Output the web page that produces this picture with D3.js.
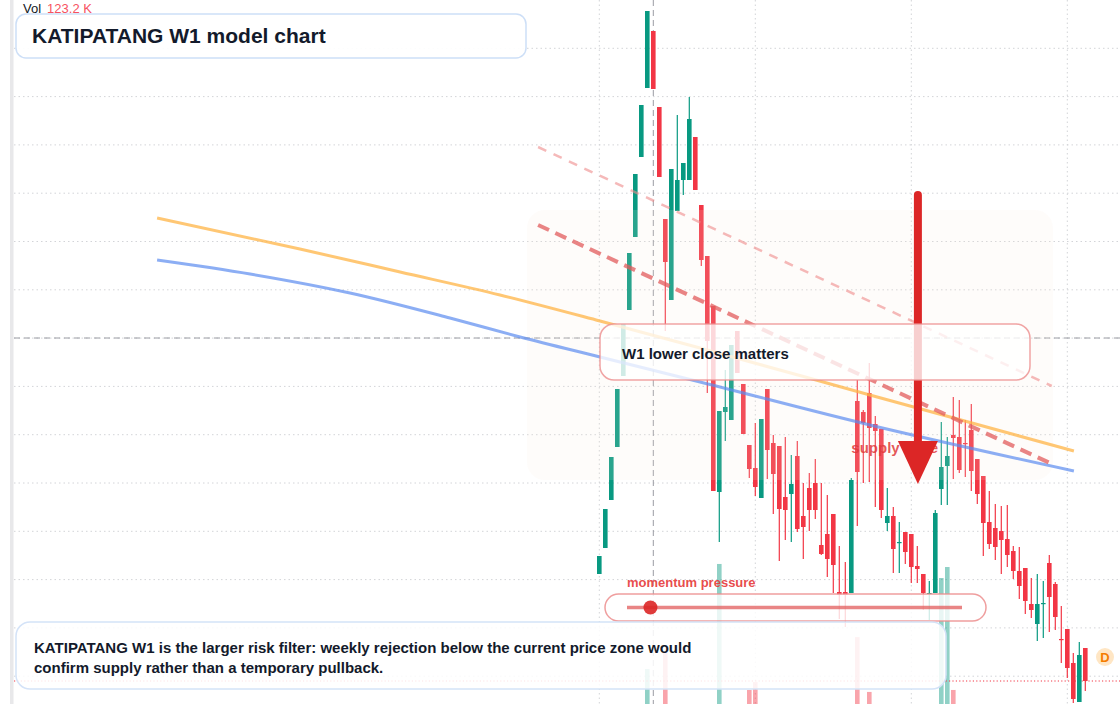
<!DOCTYPE html>
<html>
<head>
<meta charset="utf-8">
<script src="https://cdn.jsdelivr.net/npm/d3@7/dist/d3.min.js"></script>
<style>
    html, body { margin: 0; padding: 0; background: #fff; }
    #chart { width: 1120px; height: 704px; overflow: hidden; }
    text { font-family: "Liberation Sans", Arial, sans-serif; }
</style>
</head>
<body>
<div id="chart"></div>
<script>
// Weekly candles (oldest -> newest)
const opens  = [2.26,2.52,3.00,3.53,4.24,4.90,5.63,6.43,7.12,7.69,6.93,5.81,5.00,5.89,6.20,6.20,6.63,5.95,5.44,4.94,
                3.08,3.88,3.80,4.69,4.16,3.55,3.32,3.02,4.11,3.57,3.54,3.03,3.06,3.44,2.84,3.12,3.17,2.55,2.66,2.86,
                2.08,2.08,2.07,3.99,3.88,4.07,3.76,3.71,2.77,2.84,2.57,2.68,2.66,2.34,2.26,2.06,2.07,3.11,3.34,3.65,
                3.63,3.57,3.70,3.41,3.24,2.78,2.72,2.69,2.61,2.49,2.29,2.32,1.96,1.76,1.96,2.37,2.16,1.61,1.71,1.37,
                0.98,1.52];
const highs  = [2.44,2.91,3.43,4.11,4.76,5.47,6.26,6.95,7.89,7.69,6.93,5.81,6.31,6.85,6.37,7.03,6.63,5.95,5.44,4.94,
                3.89,4.30,4.55,4.69,4.16,3.55,3.77,3.81,4.11,3.65,3.54,3.63,3.45,3.59,3.17,3.27,3.41,3.17,3.05,2.86,
                2.54,2.38,3.22,4.20,3.90,4.37,3.84,3.71,3.12,2.93,2.78,2.68,2.66,2.54,2.26,2.19,2.90,3.78,3.63,4.03,
                4.00,3.80,3.96,3.41,3.24,3.09,2.96,2.94,2.95,2.54,2.53,2.32,2.22,2.26,2.19,2.45,2.18,1.94,1.71,1.47,
                1.58,1.52];
const lows   = [2.26,2.52,3.00,3.53,4.24,4.90,5.63,6.43,7.12,7.11,6.23,4.69,5.00,5.89,6.05,6.20,6.10,5.34,4.07,3.09,
                2.58,3.59,3.80,4.27,3.66,3.22,3.04,3.02,3.21,2.86,2.39,2.60,2.58,2.68,2.41,2.69,2.81,2.45,2.23,2.07,
                1.81,1.73,2.07,2.74,3.17,3.18,2.93,2.82,2.69,2.27,2.27,2.36,2.17,2.17,1.90,1.80,2.07,2.95,2.95,3.21,
                3.27,3.23,3.09,2.96,2.44,2.51,2.40,2.26,2.33,2.21,2.01,1.86,1.82,1.59,1.62,1.68,1.70,1.37,1.22,0.97,
                0.98,1.09];
const closes = [2.44,2.91,3.43,4.11,4.76,5.47,6.26,6.95,7.89,7.11,6.23,5.38,6.31,6.20,6.37,6.81,6.10,5.40,4.59,3.09,
                3.89,3.93,4.55,4.27,3.66,3.31,3.13,3.81,3.50,3.26,2.91,2.90,3.16,2.71,2.73,2.90,2.90,2.46,2.41,2.35,
                2.05,2.05,3.20,3.28,3.77,3.72,3.69,2.90,2.84,2.51,2.58,2.48,2.33,2.31,2.07,2.07,2.87,3.33,3.44,3.62,
                3.30,3.56,3.29,3.06,2.77,2.56,2.53,2.60,2.45,2.29,2.14,1.99,1.90,1.96,1.97,2.03,1.83,1.60,1.32,1.01,
                1.45,1.19];
// volume in K
const volumes = [140,160,130,170,150,180,160,190,394,185,170,483,175,120,100,150,140,130,160,190,
                 978,110,150,120,140,278,322,170,130,110,150,90,100,120,80,95,105,85,110,130,
                 90,100,180,572,120,267,110,140,80,120,90,100,110,85,120,95,190,900,961,278,
                 160,110,150,120,170,100,110,90,120,100,130,150,90,120,100,160,140,110,170,190,
                 150,123.2];

// drawn lines: [candle index, price]
const orangeLine = [[-73.7,5.82],[-49.9,5.51],[-33.2,5.28],[-16.55,5.05],[0.12,4.79],[16.8,4.52],[45.1,4.05],[79.1,3.49]];
const blueLine   = [[-73.7,5.40],[-58.2,5.26],[-41.55,5.07],[-24.9,4.82],[-13.2,4.63],[0.12,4.43],[16.8,4.18],[45.1,3.75],[79.1,3.29]];
const upperTrend = [[-10.2,6.53],[75.4,4.14]];
const lowerTrend = [[-10.2,5.75],[75.8,3.35]];
const supplyZone = { from: -12.05, to: 75.6, top: 5.90, bottom: 3.20 };
const arrowAt = { index: 53.1, from: 6.05, to: 3.16 };
const crosshair = { index: 9, price: 4.62 };
const timeGrid = [0, 26, 52, 78];
const gridStep = 0.483;
const momentumValue = 0.07;

const titleText = 'KATIPATANG W1 model chart';
const noteText = 'W1 lower close matters';
const zoneText = 'supply zone';
const momentumText = 'momentum pressure';
const bottomLines = [
    'KATIPATANG W1 is the larger risk filter: weekly rejection below the current price zone would',
    'confirm supply rather than a temporary pullback.'
];

document.addEventListener('DOMContentLoaded', () => {
    const width = 1120, height = 704;
    const up = '#089981', down = '#f23645';

    const candles = opens.map((o, i) => ({ i, o, h: highs[i], l: lows[i], c: closes[i], v: volumes[i] }));

    const x = d3.scaleLinear().domain([0, candles.length - 1]).range([599.3, 1085.3]);
    const y = d3.scaleLinear().domain([0.96, 8.0]).range([height, 0]);
    const yVol = d3.scaleLinear().domain([0, 1000]).range([740, 560]);
    const bw = 4.6;

    const svg = d3.select('#chart').append('svg')
        .attr('width', width)
        .attr('height', height);

    // left scale border
    svg.append('rect').attr('x', 10).attr('y', 0).attr('width', 3.5).attr('height', height).attr('fill', '#e8e8ea');

    // grid
    const grid = svg.append('g');
    const gridPrices = d3.range(1, 15).map(k => 8.0 - gridStep * k);
    grid.selectAll('line.h').data(gridPrices).enter().append('line')
        .attr('x1', 14).attr('x2', width)
        .attr('y1', d => y(d)).attr('y2', d => y(d))
        .attr('stroke', '#d3d4d8').attr('stroke-dasharray', '1.5,3');
    grid.selectAll('line.v').data(timeGrid).enter().append('line')
        .attr('x1', d => x(d)).attr('x2', d => x(d))
        .attr('y1', 0).attr('y2', height)
        .attr('stroke', '#d3d4d8').attr('stroke-dasharray', '1.5,3');

    // crosshair
    svg.append('line')
        .attr('x1', 14).attr('x2', width)
        .attr('y1', y(crosshair.price)).attr('y2', y(crosshair.price))
        .attr('stroke', '#9a9ca3').attr('stroke-dasharray', '6,4');
    svg.append('line')
        .attr('x1', x(crosshair.index)).attr('x2', x(crosshair.index))
        .attr('y1', 0).attr('y2', height)
        .attr('stroke', '#9a9ca3').attr('stroke-dasharray', '6,4');

    // volume
    svg.append('g').selectAll('rect').data(candles).enter().append('rect')
        .attr('x', d => x(d.i) - bw / 2)
        .attr('width', bw)
        .attr('y', d => yVol(d.v))
        .attr('height', d => yVol(0) - yVol(d.v))
        .attr('fill', d => d.c >= d.o ? up : down)
        .attr('fill-opacity', 0.45);

    // last price line
    const last = candles[candles.length - 1];
    svg.append('line')
        .attr('x1', 14).attr('x2', width)
        .attr('y1', y(last.c)).attr('y2', y(last.c))
        .attr('stroke', down).attr('stroke-width', 1).attr('stroke-dasharray', '1.2,2.2');

    // candles
    const cg = svg.append('g');
    cg.selectAll('line').data(candles).enter().append('line')
        .attr('x1', d => x(d.i)).attr('x2', d => x(d.i))
        .attr('y1', d => y(d.h)).attr('y2', d => y(d.l))
        .attr('stroke', d => d.c >= d.o ? up : down)
        .attr('stroke-width', 1.2);
    cg.selectAll('rect').data(candles).enter().append('rect')
        .attr('x', d => x(d.i) - bw / 2)
        .attr('width', bw)
        .attr('y', d => y(Math.max(d.o, d.c)))
        .attr('height', d => Math.max(1.2, Math.abs(y(d.o) - y(d.c))))
        .attr('fill', d => d.c >= d.o ? up : down);

    // supply zone shading
    svg.append('rect')
        .attr('x', x(supplyZone.from)).attr('y', y(supplyZone.top))
        .attr('width', x(supplyZone.to) - x(supplyZone.from))
        .attr('height', y(supplyZone.bottom) - y(supplyZone.top))
        .attr('rx', 18)
        .attr('fill', '#fbe9dc').attr('fill-opacity', 0.14);

    const line = d3.line().x(d => x(d[0])).y(d => y(d[1]));
    const smooth = d3.line().x(d => x(d[0])).y(d => y(d[1])).curve(d3.curveMonotoneX);

    svg.append('path').attr('d', smooth(orangeLine))
        .attr('fill', 'none').attr('stroke', '#ffb445').attr('stroke-opacity', 0.75).attr('stroke-width', 3);
    svg.append('path').attr('d', smooth(blueLine))
        .attr('fill', 'none').attr('stroke', '#5b8cf0').attr('stroke-opacity', 0.7).attr('stroke-width', 3);

    svg.append('path').attr('d', line(upperTrend))
        .attr('fill', 'none').attr('stroke', '#ef8a8a').attr('stroke-opacity', 0.6)
        .attr('stroke-width', 2.5).attr('stroke-dasharray', '9,8');
    svg.append('path').attr('d', line(lowerTrend))
        .attr('fill', 'none').attr('stroke', '#e25c5c').attr('stroke-opacity', 0.75)
        .attr('stroke-width', 4).attr('stroke-dasharray', '12,7');

    // supply zone label + arrow
    svg.append('text')
        .attr('x', x(42.0)).attr('y', y(3.47))
        .attr('font-size', 15).attr('font-weight', 'bold')
        .attr('fill', '#e03a3a').attr('fill-opacity', 0.85)
        .text(zoneText);

    const ax = x(arrowAt.index);
    svg.append('line')
        .attr('x1', ax).attr('x2', ax)
        .attr('y1', y(arrowAt.from)).attr('y2', y(arrowAt.to) - 40)
        .attr('stroke', '#dc2626').attr('stroke-width', 8).attr('stroke-linecap', 'round');
    svg.append('path')
        .attr('d', `M${ax - 20},${y(arrowAt.to) - 43} L${ax + 20},${y(arrowAt.to) - 43} L${ax},${y(arrowAt.to)} Z`)
        .attr('fill', '#dc2626');

    // title box
    svg.append('rect')
        .attr('x', 16).attr('y', 14).attr('width', 510).attr('height', 44).attr('rx', 10)
        .attr('fill', '#fff').attr('fill-opacity', 0.92)
        .attr('stroke', '#cddff7').attr('stroke-width', 1.5);
    svg.append('text')
        .attr('x', 32).attr('y', 43)
        .attr('font-size', 21).attr('font-weight', 'bold').attr('fill', '#131a2b')
        .text(titleText);

    // volume legend
    const vol = svg.append('text').attr('x', 23).attr('y', 13).attr('font-size', 13);
    vol.append('tspan').attr('fill', '#131722').text('Vol');
    vol.append('tspan').attr('dx', 6).attr('fill', '#f7525f').text(d3.format('.1f')(last.v) + ' K');

    // note box
    svg.append('rect')
        .attr('x', 600).attr('y', 324).attr('width', 430).attr('height', 56).attr('rx', 14)
        .attr('fill', '#fff').attr('fill-opacity', 0.78)
        .attr('stroke', '#ec8d8d').attr('stroke-opacity', 0.8).attr('stroke-width', 1.5);
    svg.append('text')
        .attr('x', 622).attr('y', 359)
        .attr('font-size', 15).attr('font-weight', 'bold').attr('fill', '#131a2b')
        .text(noteText);

    // momentum pill
    const mx = d3.scaleLinear().domain([0, 1]).range([627, 962]);
    svg.append('text')
        .attr('x', 627).attr('y', 587)
        .attr('font-size', 13).attr('font-weight', 'bold')
        .attr('fill', '#e53535').attr('fill-opacity', 0.9)
        .text(momentumText);
    svg.append('rect')
        .attr('x', 605).attr('y', 594).attr('width', 381).attr('height', 27).attr('rx', 13.5)
        .attr('fill', '#fff').attr('fill-opacity', 0.8)
        .attr('stroke', '#ec8d8d').attr('stroke-opacity', 0.85).attr('stroke-width', 1.5);
    svg.append('line')
        .attr('x1', mx(0)).attr('x2', mx(1)).attr('y1', 607.5).attr('y2', 607.5)
        .attr('stroke', '#e25c5c').attr('stroke-opacity', 0.75).attr('stroke-width', 3.5);
    svg.append('circle')
        .attr('cx', mx(momentumValue)).attr('cy', 607.5).attr('r', 7)
        .attr('fill', '#dc2626').attr('fill-opacity', 0.9);

    // bottom explanation box
    svg.append('rect')
        .attr('x', 16).attr('y', 622).attr('width', 930).attr('height', 67).attr('rx', 14)
        .attr('fill', '#fff').attr('fill-opacity', 0.86)
        .attr('stroke', '#d4e3f8').attr('stroke-width', 1.5);
    svg.append('g').selectAll('text').data(bottomLines).enter().append('text')
        .attr('x', 34).attr('y', (d, i) => 653 + i * 20)
        .attr('font-size', 15).attr('font-weight', 'bold').attr('fill', '#131a2b')
        .text(d => d);

    // D marker
    svg.append('circle').attr('cx', 1105).attr('cy', 657).attr('r', 9).attr('fill', '#ffe6c4');
    svg.append('text')
        .attr('x', 1105).attr('y', 661.5).attr('text-anchor', 'middle')
        .attr('font-size', 13).attr('font-weight', 'bold').attr('fill', '#f57c00')
        .text('D');
});
</script>
</body>
</html>
